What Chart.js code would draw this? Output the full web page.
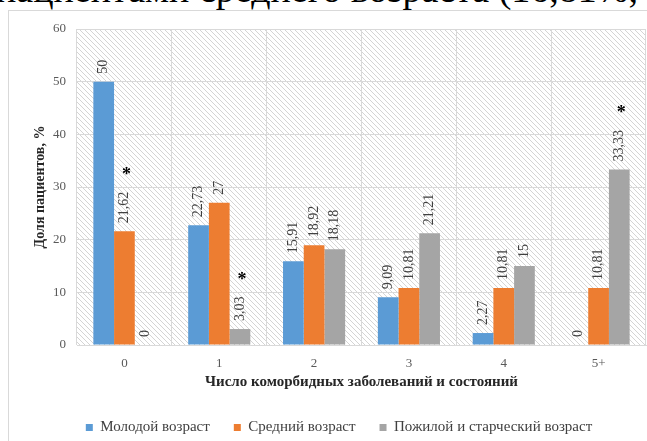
<!DOCTYPE html>
<html>
<head>
<meta charset="utf-8">
<script src="https://cdn.jsdelivr.net/npm/chart.js@4"></script>
<style>
body { margin: 0; width: 647px; height: 441px; overflow: hidden; background: #fff; position: relative; }
#caption {
    position: absolute; left: -4px; top: -30px; white-space: nowrap;
    font-family: "Liberation Serif", serif; font-size: 38px; line-height: 38px; color: #000;
}
#frame { position: absolute; left: 8px; top: 10px; width: 700px; height: 500px; border: 1px solid #d9d9d9; }
#wrap { position: absolute; left: 0; top: 0; width: 647px; height: 441px; }
</style>
</head>
<body>
<div id="caption">пациентами среднего возраста (16,81%,</div>
<div id="frame"></div>
<div id="wrap"><canvas id="chart" width="647" height="441"></canvas></div>
<script>
const categories = ["0", "1", "2", "3", "4", "5+"];
const youngValues = [50, 22.73, 15.91, 9.09, 2.27, 0];
const middleValues = [21.62, 27, 18.92, 10.81, 10.81, 10.81];
const oldValues = [0, 3.03, 18.18, 21.21, 15, 33.33];
// significance marks (*)
const youngStars = [false, false, false, false, false, false];
const middleStars = [true, false, false, false, false, false];
const oldStars = [false, true, false, false, false, true];

const FONT = "'Liberation Serif', 'Times New Roman', serif";

// hatched background of the plot area
function makeHatch() {
    const c = document.createElement("canvas");
    c.width = 5; c.height = 5;
    const g = c.getContext("2d");
    g.strokeStyle = "#d4d4d4";
    g.lineWidth = 1;
    g.beginPath();
    g.moveTo(-1, -1); g.lineTo(6, 6);
    g.moveTo(-1, 4); g.lineTo(1, 6);
    g.moveTo(4, -1); g.lineTo(6, 1);
    g.stroke();
    return c;
}

const hatchBg = {
    id: "hatchBg",
    beforeDraw(chart) {
        const a = chart.chartArea;
        const ctx = chart.ctx;
        ctx.save();
        ctx.fillStyle = ctx.createPattern(makeHatch(), "repeat");
        ctx.fillRect(a.left, a.top, a.right - a.left, a.bottom - a.top);
        ctx.restore();
    }
};

const barLabels = {
    id: "barLabels",
    afterDatasetsDraw(chart) {
        const ctx = chart.ctx;
        chart.data.datasets.forEach((ds, i) => {
            const meta = chart.getDatasetMeta(i);
            meta.data.forEach((bar, j) => {
                const text = String(ds.data[j]).replace(".", ",");
                ctx.save();
                ctx.font = "14px " + FONT;
                ctx.fillStyle = "#404040";
                ctx.translate(bar.x, bar.y - 8);
                ctx.rotate(-Math.PI / 2);
                ctx.textAlign = "left";
                ctx.textBaseline = "middle";
                ctx.fillText(text, 0, 0);
                const w = ctx.measureText(text).width;
                ctx.restore();

                if (ds.stars[j]) {
                    ctx.save();
                    ctx.font = "bold 18px " + FONT;
                    ctx.fillStyle = "#000";
                    ctx.textAlign = "center";
                    ctx.textBaseline = "alphabetic";
                    ctx.fillText("*", bar.x + 2, bar.y - 8 - w - 12);
                    ctx.restore();
                }
            });
        });
    }
};

new Chart(document.getElementById("chart"), {
    type: "bar",
    data: {
        labels: categories,
        datasets: [
            { label: "Молодой возраст", data: youngValues, stars: youngStars, backgroundColor: "#5B9BD5" },
            { label: "Средний возраст", data: middleValues, stars: middleStars, backgroundColor: "#ED7D31" },
            { label: "Пожилой и старческий возраст", data: oldValues, stars: oldStars, backgroundColor: "#A5A5A5" }
        ]
    },
    options: {
        responsive: false,
        animation: false,
        layout: { padding: { left: 32, right: 1, top: 29, bottom: -4 } },
        datasets: { bar: { barPercentage: 1, categoryPercentage: 0.655 } },
        plugins: {
            tooltip: { enabled: false },
            legend: {
                position: "bottom",
                labels: {
                    boxWidth: 7, boxHeight: 7, padding: 24,
                    color: "#404040",
                    font: { family: FONT, size: 15 }
                }
            }
        },
        scales: {
            x: {
                afterFit(scale) { scale.height = 51; },
                grid: { color: "#d9d9d9", drawTicks: false, offset: true },
                border: { color: "#d9d9d9" },
                ticks: { color: "#595959", padding: 11, font: { family: FONT, size: 13 } },
                title: {
                    display: true,
                    text: "Число коморбидных заболеваний и состояний",
                    color: "#262626",
                    padding: { top: 0, bottom: 5 },
                    font: { family: FONT, size: 15, weight: "bold" }
                }
            },
            y: {
                min: 0, max: 60,
                afterFit(scale) { scale.width = 45; },
                grid: { color: "#d9d9d9", drawTicks: false },
                border: { display: false },
                ticks: { stepSize: 10, color: "#595959", padding: 11, font: { family: FONT, size: 13 } },
                title: {
                    display: true,
                    text: "Доля пациентов, %",
                    color: "#262626",
                    padding: 0,
                    font: { family: FONT, size: 14, weight: "bold" }
                }
            }
        }
    },
    plugins: [hatchBg, barLabels]
});
</script>
</body>
</html>
